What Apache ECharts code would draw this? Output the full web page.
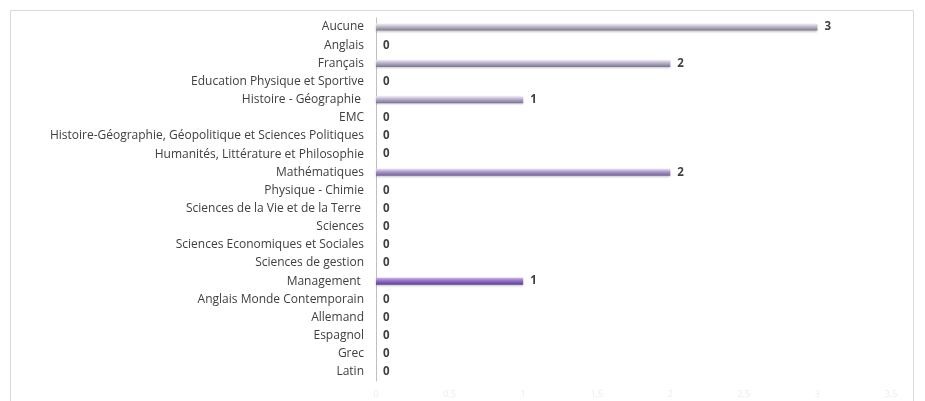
<!DOCTYPE html>
<html>
<head>
<meta charset="utf-8">
<script src="https://cdn.jsdelivr.net/npm/echarts@6/dist/echarts.min.js"></script>
<style>
  html, body { margin: 0; padding: 0; background: #fff; }
  #chart { width: 925px; height: 401px; }
</style>
</head>
<body>
<div id="chart"></div>
<script>
// matières (de haut en bas)
var categories = [
    'Aucune', 'Anglais', 'Français', 'Education Physique et Sportive',
    'Histoire - Géographie ', 'EMC',
    'Histoire-Géographie, Géopolitique et Sciences Politiques',
    'Humanités, Littérature et Philosophie', 'Mathématiques',
    'Physique - Chimie', 'Sciences de la Vie et de la Terre ', 'Sciences',
    'Sciences Economiques et Sociales', 'Sciences de gestion', 'Management ',
    'Anglais Monde Contemporain', 'Allemand', 'Espagnol', 'Grec', 'Latin'
];
var values = [3, 0, 2, 0, 1, 0, 0, 0, 2, 0, 0, 0, 0, 0, 1, 0, 0, 0, 0, 0];
var xTicks = ['0', '0,5', '1', '1,5', '2', '2,5', '3', '3,5'];

// teinte de chaque barre (haut clair -> bas foncé)
var barTones = {
    0: ['#f3f0f8', '#bdb8c8', '#807a8c'],
    2: ['#f1ecf7', '#bab2c9', '#7e7492'],
    4: ['#efeaf6', '#b7aec9', '#7b6f94'],
    8: ['#e9e0f6', '#a996ca', '#725f99'],
    14: ['#cdb4ec', '#9370c6', '#5d3f90']
};

function barItem(v, i) {
    var t = barTones[i] || barTones[0];
    return {
        value: v,
        itemStyle: {
            color: new echarts.graphic.LinearGradient(0, 0, 0, 1, [
                { offset: 0, color: t[0] },
                { offset: 0.45, color: t[1] },
                { offset: 1, color: t[2] }
            ]),
            shadowColor: 'rgba(0,0,0,0.22)',
            shadowBlur: 2,
            shadowOffsetY: 1
        }
    };
}

var myChart = echarts.init(document.getElementById('chart'));

var option = {
    animation: false,
    textStyle: { fontFamily: '"Open Sans", "Noto Sans", sans-serif' },
    graphic: [{
        type: 'rect',
        shape: { x: 10.5, y: 10.5, width: 903, height: 400 },
        style: { fill: 'none', stroke: '#d9d9d9', lineWidth: 1 },
        silent: true
    }],
    grid: { left: 376, right: 34, top: 18, bottom: 20, containLabel: false },
    xAxis: {
        type: 'value',
        min: 0,
        max: 3.5,
        interval: 0.5,
        axisLine: { show: false },
        axisTick: { show: false },
        splitLine: { show: false },
        axisLabel: {
            color: '#ececec',
            fontSize: 9,
            margin: 9,
            formatter: function (v) { return xTicks[Math.round(v * 2)]; }
        }
    },
    yAxis: {
        type: 'category',
        inverse: true,
        data: categories,
        axisLine: { show: true, lineStyle: { color: '#bfbfbf', width: 1 } },
        axisTick: { show: false },
        axisLabel: { color: '#404040', fontSize: 12, margin: 12 }
    },
    series: [{
        type: 'bar',
        barWidth: 7,
        data: values.map(barItem),
        label: {
            show: true,
            position: 'right',
            distance: 7,
            color: '#404040',
            fontSize: 11.5,
            fontWeight: 'bold'
        }
    }]
};

myChart.setOption(option);
</script>
</body>
</html>
